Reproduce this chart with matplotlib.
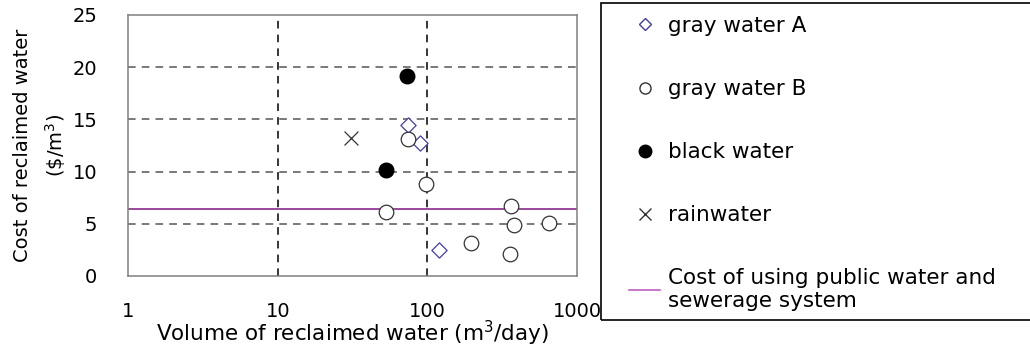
import matplotlib
matplotlib.use("Agg")
import matplotlib.pyplot as plt
from matplotlib.patches import Rectangle
from matplotlib.lines import Line2D

plt.rcParams['font.family'] = ['DejaVu Sans']

# data
grayA_x = [74.8, 89, 120.5]
grayA_y = [14.5, 12.7, 2.5]
grayB_x = [73.7, 98.6, 52.8, 364, 377, 649, 196, 355]
grayB_y = [13.1, 8.8, 6.1, 6.7, 4.9, 5.1, 3.2, 2.1]
black_x = [72.6, 52.8]
black_y = [19.2, 10.2]
rain_x = [30.8]
rain_y = [13.2]
public_cost = 6.4

xticks = [1, 10, 100, 1000]
xticklabels = ['1', '10', '100', '1000']
yticks = [0, 5, 10, 15, 20, 25]

fig = plt.figure(figsize=(10.30, 3.51), dpi=100)
ax = fig.add_axes([0.1243, 0.2137, 0.4359, 0.7436])
ax.set_xscale('log')
ax.set_xlim(1, 1000)
ax.set_ylim(0, 25)

for g in [10, 100]:
    ax.axvline(g, color='black', lw=1.1, ls=(0, (5, 4)), zorder=1)
for g in [5, 10, 15, 20]:
    ax.axhline(g, color='#555555', lw=1.1, ls=(0, (5, 4)), zorder=1)

ax.axhline(public_cost, color='#8a2a8a', lw=1.2, zorder=2)

ax.scatter(grayA_x, grayA_y, marker='D', s=60, facecolors='white', edgecolors='#4040a0', linewidths=0.9, zorder=3)
ax.scatter(grayB_x, grayB_y, marker='o', s=110, facecolors='white', edgecolors='#333333', linewidths=0.9, zorder=3)
ax.scatter(black_x, black_y, marker='o', s=110, facecolors='black', edgecolors='black', zorder=3)
ax.scatter(rain_x, rain_y, marker='x', s=100, color='#333333', linewidths=0.9, zorder=3)

ax.set_xticks(xticks)
ax.set_xticklabels(xticklabels)
ax.xaxis.set_minor_locator(matplotlib.ticker.NullLocator())
ax.set_yticks(yticks)
ax.tick_params(axis='both', length=0, labelsize=14)
ax.tick_params(axis='x', pad=18.5)
ax.tick_params(axis='y', pad=22)
for s in ax.spines.values():
    s.set_color('#808080')
    s.set_linewidth(1.1)

ax.set_xlabel('Volume of reclaimed water (m$^3$/day)', fontsize=15.5, labelpad=-1)
ax.set_ylabel('Cost of reclaimed water\n(\\$/m$^3$)', fontsize=14, labelpad=3,
              linespacing=1.6)

handles = [
    Line2D([], [], marker='D', ls='none', markersize=6.5, markerfacecolor='white', markeredgecolor='#4040a0'),
    Line2D([], [], marker='o', ls='none', markersize=8, markerfacecolor='white', markeredgecolor='#333333'),
    Line2D([], [], marker='o', ls='none', markersize=9, markerfacecolor='black', markeredgecolor='black'),
    Line2D([], [], marker='x', ls='none', markersize=9, color='#333333'),
    Line2D([], [], color='#c060c0', lw=1.2),
]
labels = ['gray water A', 'gray water B', 'black water', 'rainwater',
          'Cost of using public water and\nsewerage system']
fig.legend(handles, labels, loc='upper left', bbox_to_anchor=(629/1030, 1 - 16/351),
           frameon=False, fontsize=15.5, labelspacing=2.0, handlelength=1.45,
           handletextpad=0.35, borderpad=0, borderaxespad=0)
fig.add_artist(Rectangle((601/1030, 1 - 320/351), (1040 - 601)/1030, (320 - 3)/351,
                         transform=fig.transFigure, fill=False, edgecolor='black', lw=1.2))

fig.savefig('out.png', dpi=100)
